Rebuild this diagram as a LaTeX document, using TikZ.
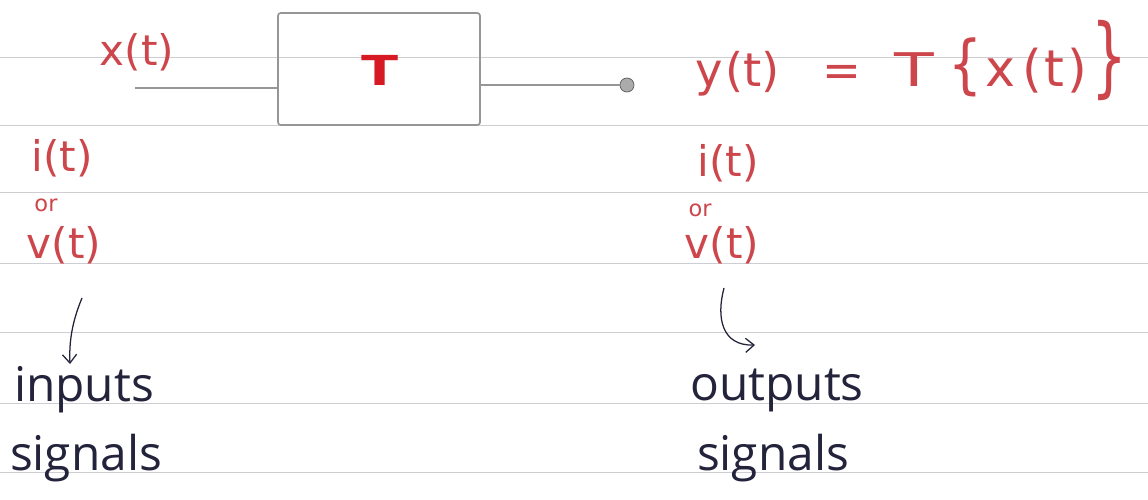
\documentclass[tikz,border=0pt]{standalone}
\usepackage{fontspec}
\usepackage{graphicx}
\setmainfont{Open Sans}
\newfontfamily\redfont{DejaVu Sans}
\usetikzlibrary{arrows.meta}
\definecolor{ink}{RGB}{205,70,75}
\definecolor{redpen}{RGB}{215,25,35}
\definecolor{pen}{RGB}{35,35,60}
\definecolor{pencil}{RGB}{150,150,150}
\definecolor{ruling}{RGB}{205,205,210}
\tikzset{
  redtext/.style={text=ink, inner sep=0pt, font=\redfont\fontsize{30}{30}\selectfont},
  smallred/.style={text=ink, inner sep=0pt, font=\redfont\fontsize{16}{16}\selectfont},
  bluetext/.style={text=pen, inner sep=0pt, font=\fontsize{34}{34}\selectfont},
  penarrow/.style={draw=pen, line width=0.9pt, -{Straight Barb[length=6pt,width=10pt]}},
  pencilline/.style={draw=pencil, line width=1.2pt},
}
% a tall brace: set at size #1, stretched vertically by #2
\newcommand{\tallbrace}[3]{\scalebox{1}[#2]{\fontsize{#1}{#1}\selectfont#3}}
\begin{document}
\begin{tikzpicture}[x=0.025cm, y=-0.025cm]
\useasboundingbox (0,0) rectangle (1148,499);
\fill[white] (0,0) rectangle (1148,499);
% ruled paper
\foreach \yy in {57,125,192,263,332,403,472}
  \draw[ruling, line width=0.6pt] (0,\yy) -- (1148,\yy);

% system block
\node[pencilline, rounded corners=2pt, minimum width=5.05cm, minimum height=2.8cm,
      inner sep=0pt] (sys) at (379,69) {};
\node[text=redpen, font=\fontsize{30}{30}\bfseries\selectfont, inner sep=0pt] (tlabel) at (380,70) {\scalebox{1.6}[1]{T}};

% input line
\coordinate (in) at (135,88);
\draw[pencilline] (in) -- (in -| sys.west);
\node[redtext] (xin) at (137,52) {x(t)};

% output line and terminal dot
\node[circle, fill=pencil!80, draw=pencil!60!black, line width=0.5pt, minimum size=10pt, inner sep=0pt] (outdot) at (627,85) {};
\draw[pencilline] (sys.east |- outdot) -- (outdot.west);
\node[redtext, anchor=base west, font=\redfont\fontsize{33}{33}\selectfont] (yout) at (695,86)
  {y\hspace{2pt}(t)\hspace{30pt}=\hspace{24pt}\scalebox{1.4}[1]{T}\hspace{10pt}\tallbrace{38}{1.2}{\{}\hspace{2pt}{\fontsize{36}{36}\selectfont x\hspace{5pt}(\hspace{2pt}t\hspace{2pt})}\hspace{3pt}\tallbrace{40}{1.55}{\}}};

% input signal names
\node[redtext] (iin) at (62,158) {i(t)};
\node[smallred] (orin) at (46,205) {or};
\node[redtext] (vin) at (64,245) {v(t)};

% output signal names
\node[redtext] (iout) at (728,163) {i(t)};
\node[smallred] (orout) at (700,210) {or};
\node[redtext] (vout) at (722,245) {v(t)};

% captions
\node[bluetext] (inputs) at (84,390) {inputs};
\node[bluetext] (insig) at (86,458) {signals};
\node[bluetext] (outputs) at (777,390) {outputs};
\node[bluetext] (outsig) at (773,458) {signals};

% pointer arrows
\coordinate (a1) at (82,298);
\coordinate (a2) at (70,364);
\draw[penarrow] (a1) .. controls (72,322) and (69,342) .. (a2);
\coordinate (b1) at (724,288);
\coordinate (b2) at (755,345);
\draw[penarrow] (b1) .. controls (716,318) and (722,346) .. (b2);
\end{tikzpicture}
\end{document}
